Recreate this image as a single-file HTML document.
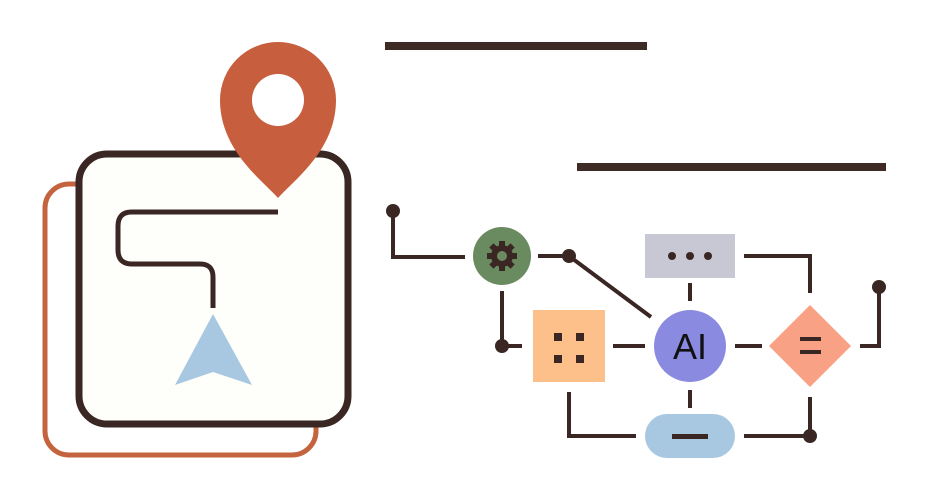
<!DOCTYPE html>
<html><head><meta charset="utf-8"><style>
html,body{margin:0;padding:0;background:#fff;}
svg{display:block;}
</style></head><body>
<svg width="926" height="500" viewBox="0 0 926 500" xmlns="http://www.w3.org/2000/svg">
<rect width="926" height="500" fill="#fff"/>
<rect x="385" y="42" width="262" height="8" fill="#3e2b25"/>
<rect x="577" y="163" width="309" height="8" fill="#3e2b25"/>
<rect x="45" y="184" width="271" height="271" rx="24" fill="none" stroke="#c4643f" stroke-width="5"/>
<rect x="79" y="154" width="269" height="270" rx="28" fill="#fefefb" stroke="#3a2723" stroke-width="7"/>
<path d="M278 212 H132 Q118 212 118 226 V250 Q118 264 132 264 H200 Q213 264 213 277 V308" fill="none" stroke="#3a2723" stroke-width="5"/>
<polygon points="213,314 175,385 213,372 252,385" fill="#a8c8e2"/>
<path d="M278 198 C262 180 220 150 220 100 A58 58 0 0 1 336 100 C336 150 294 180 278 198 Z" fill="#c75f3e"/>
<circle cx="278" cy="100" r="26" fill="#fff"/>
<g fill="none" stroke="#3a2723" stroke-width="4">
<path d="M393 211 V257 H465"/>
<path d="M538 256 H569 L651 317"/>
<path d="M502 291 V346 H522"/>
<path d="M613 346 H645"/>
<path d="M690 283 V301"/>
<path d="M744 256 H810 V293"/>
<path d="M735 346 H762"/>
<path d="M860 346 H879 V287"/>
<path d="M690 390 V408"/>
<path d="M569 392 V436 H636"/>
<path d="M744 436 H810 V397"/>
</g>
<g fill="#3a2723">
<circle cx="393" cy="211" r="7"/>
<circle cx="569" cy="256" r="7"/>
<circle cx="502" cy="346" r="7"/>
<circle cx="879" cy="287" r="7"/>
<circle cx="810" cy="436" r="7"/>
</g>
<circle cx="502" cy="256" r="29" fill="#6a8a60"/>
<g fill="#3a2723" transform="translate(502,256)">
<rect x="-3" y="-15" width="6" height="30"/>
<rect x="-3" y="-15" width="6" height="30" transform="rotate(45)"/>
<rect x="-3" y="-15" width="6" height="30" transform="rotate(90)"/>
<rect x="-3" y="-15" width="6" height="30" transform="rotate(135)"/>
<circle r="11"/>
<circle r="5" fill="#6a8a60"/>
</g>
<rect x="645" y="234" width="90" height="44" fill="#c7c8d3"/>
<g fill="#3a2723"><circle cx="672" cy="256" r="4"/><circle cx="690" cy="256" r="4"/><circle cx="708" cy="256" r="4"/></g>
<rect x="533" y="310" width="72" height="72" fill="#fdc08b"/>
<g fill="#3a2723">
<rect x="554" y="333" width="8" height="8"/><rect x="576" y="333" width="8" height="8"/>
<rect x="554" y="355" width="8" height="8"/><rect x="576" y="355" width="8" height="8"/>
</g>
<circle cx="690" cy="346" r="36" fill="#8a8ae0"/>
<text x="690" y="359" text-anchor="middle" font-family="Liberation Sans, sans-serif" font-size="36" fill="#111">AI</text>
<polygon points="810,305 851,346 810,387 769,346" fill="#f9a184"/>
<rect x="800" y="337" width="21" height="4" fill="#3a2723"/>
<rect x="800" y="350" width="21" height="4" fill="#3a2723"/>
<rect x="645" y="414" width="90" height="44" rx="22" fill="#a8c8e2"/>
<rect x="672" y="434" width="36" height="5" fill="#3a2723"/>
</svg>
</body></html>
